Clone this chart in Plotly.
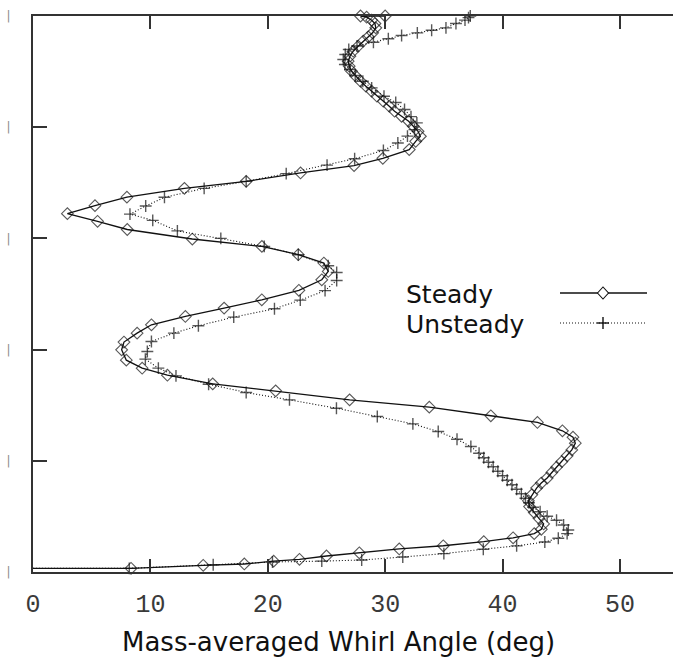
import plotly.graph_objects as go

# Spanwise position (0 = hub, 1 = tip) and mass-averaged whirl angle [deg]
steady_span = [
    0.0066, 0.0066, 0.0120, 0.0144, 0.0195, 0.0228, 0.0288, 0.0345, 0.0415, 0.0472,
    0.0546, 0.0615, 0.0690, 0.0768, 0.0864, 0.0966, 0.1070, 0.1176, 0.1280, 0.1390,
    0.1510, 0.1600, 0.1690, 0.1790, 0.1885, 0.1986, 0.2090, 0.2196, 0.2317, 0.2425,
    0.2540, 0.2690, 0.2810, 0.2965, 0.3096, 0.3258, 0.3384, 0.3540, 0.3666, 0.3810,
    0.3996, 0.4136, 0.4296, 0.4446, 0.4596, 0.4746, 0.4896, 0.5066, 0.5256, 0.5406,
    0.5557, 0.5707, 0.5856, 0.5989, 0.6160, 0.6307, 0.6445, 0.6589, 0.6742, 0.6900,
    0.7026, 0.7177, 0.7310, 0.7440, 0.7597, 0.7746, 0.7837, 0.7927, 0.8017, 0.8107,
    0.8197, 0.8287, 0.8377, 0.8467, 0.8557, 0.8647, 0.8737, 0.8827, 0.8917, 0.9007,
    0.9097, 0.9187, 0.9277, 0.9367, 0.9457, 0.9547, 0.9625, 0.9697, 0.9787, 0.9865,
    0.9925, 0.9979, 1.0000, 1.0000,
]
steady_angle = [
    0.0, 8.35, 14.5, 18.0, 20.5, 22.7, 25.0, 27.8, 31.2, 34.95,
    38.4, 40.9, 42.7, 43.3, 43.5, 43.1, 42.7, 42.3, 42.2, 42.5,
    42.9, 43.3, 43.8, 44.2, 44.6, 45.05, 45.5, 45.9, 46.2, 46.0,
    45.1, 42.97, 39.0, 33.76, 26.97, 20.67, 15.31, 11.45, 9.3, 7.95,
    7.55, 7.75, 8.87, 10.09, 12.98, 16.28, 19.49, 22.65, 24.6, 25.15,
    24.78, 22.6, 19.5, 13.57, 8.03, 5.5, 2.93, 5.28, 8.0, 12.9,
    18.16, 22.79, 27.35, 29.8, 32.05, 32.6, 33.0, 32.8, 32.4, 32.0,
    31.4, 30.8, 30.35, 29.84, 29.3, 28.85, 28.36, 27.9, 27.5, 27.14,
    26.94, 26.85, 27.0, 27.28, 27.7, 28.13, 28.56, 28.93, 29.2, 29.13,
    28.85, 28.42, 27.9, 30.0,
]

unsteady_span = [
    0.0066, 0.0066, 0.0130, 0.0180, 0.0195, 0.0216, 0.0270, 0.0330, 0.0410, 0.0470,
    0.0540, 0.0606, 0.0690, 0.0756, 0.0846, 0.0930, 0.1002, 0.1083, 0.1164, 0.1245,
    0.1326, 0.1407, 0.1488, 0.1569, 0.1650, 0.1731, 0.1812, 0.1893, 0.1974, 0.2055,
    0.2136, 0.2256, 0.2388, 0.2526, 0.2664, 0.2796, 0.2946, 0.3096, 0.3228, 0.3378,
    0.3528, 0.3666, 0.3828, 0.3966, 0.4146, 0.4296, 0.4428, 0.4584, 0.4734, 0.4890,
    0.5060, 0.5244, 0.5388, 0.5508, 0.5707, 0.5856, 0.6000, 0.6135, 0.6325, 0.6436,
    0.6583, 0.6739, 0.6900, 0.7026, 0.7165, 0.7317, 0.7433, 0.7582, 0.7717, 0.7840,
    0.7957, 0.8077, 0.8190, 0.8317, 0.8443, 0.8557, 0.8707, 0.8827, 0.8930, 0.9037,
    0.9127, 0.9217, 0.9307, 0.9397, 0.9460, 0.9529, 0.9590, 0.9649, 0.9697, 0.9745,
    0.9787, 0.9865, 0.9925, 0.9970, 1.0000,
]
unsteady_angle = [
    0.0, 8.2, 15.35, 20.4, 24.6, 28.0, 31.5, 35.0, 38.36, 41.2,
    43.6, 44.75, 45.5, 45.6, 45.2, 44.6, 43.8, 43.2, 42.6, 42.25,
    41.95, 41.6, 41.2, 40.8, 40.4, 40.0, 39.6, 39.2, 38.8, 38.4,
    38.0, 37.3, 36.12, 34.52, 32.36, 29.33, 25.85, 21.85, 18.16, 14.96,
    12.18, 10.68, 9.57, 9.74, 10.09, 12.0, 14.09, 17.1, 20.57, 22.77,
    24.88, 25.87, 25.87, 25.15, 22.6, 19.7, 16.0, 12.3, 10.2, 8.26,
    9.6, 11.2, 14.58, 18.16, 21.57, 25.05, 27.4, 29.85, 31.08, 31.9,
    32.5, 32.7, 32.2, 31.65, 30.9, 29.9, 28.85, 28.1, 27.45, 27.0,
    26.57, 26.43, 26.6, 26.9, 27.6, 29.0, 30.27, 31.4, 32.74, 33.96,
    35.18, 36.03, 36.8, 37.1, 37.25,
]

x_ticks = [0, 10, 20, 30, 40, 50]
span_ticks = [0.0, 0.2, 0.4, 0.6, 0.8, 1.0]
series_names = ["Steady", "Unsteady"]
x_title = "Mass-averaged Whirl Angle (deg)"

W, H = 673, 662
L, R, T, B = 33, 0, 16, 90
PW, PH = W - L - R, H - T - B

INK = "#111111"
AXIS = "#333333"


def px(xp):
    return (xp - L) / PW


def py(yp):
    return (H - B - yp) / PH


fig = go.Figure()

# the hub point of each profile carries no symbol
steady_sizes = [0] + [9] * (len(steady_angle) - 1)
unsteady_sizes = [0] + [8.5] * (len(unsteady_angle) - 1)

fig.add_trace(go.Scatter(
    x=steady_angle, y=steady_span, mode="lines+markers", name=series_names[0],
    line=dict(color=INK, width=1.3),
    marker=dict(symbol="diamond-open", size=steady_sizes, color=INK,
                line=dict(width=1.1, color=INK)),
    cliponaxis=False,
))
fig.add_trace(go.Scatter(
    x=unsteady_angle, y=unsteady_span, mode="lines+markers", name=series_names[1],
    line=dict(color=INK, width=1.1, dash="1px,2px"),
    marker=dict(symbol="cross-thin-open", size=unsteady_sizes, color=INK,
                line=dict(width=1.4, color=INK)),
    cliponaxis=False,
))

fig.update_xaxes(
    range=[0, 54.52], tickvals=x_ticks, ticktext=[str(t) for t in x_ticks],
    ticks="inside", ticklen=13, tickwidth=1.5, tickcolor=AXIS,
    showline=True, linewidth=2, linecolor=AXIS, mirror="ticks",
    showgrid=False, zeroline=False,
    tickfont=dict(family="Liberation Mono", size=25, color="#3a3a3a"),
    ticklabelstandoff=8,
)
fig.update_yaxes(
    range=[0, 1], tickvals=span_ticks, ticktext=["|"] * len(span_ticks),
    ticks="inside", ticklen=14, tickwidth=1.5, tickcolor=AXIS,
    showline=True, linewidth=2, linecolor=AXIS, mirror=False,
    showgrid=False, zeroline=False,
    tickfont=dict(family="DejaVu Sans", size=12, color="#8a8a8a"),
    ticklabelstandoff=18,
)

annotations = [
    dict(text=x_title, xref="paper", yref="paper", x=px(338.5), y=py(642),
         xanchor="center", yanchor="middle", showarrow=False,
         font=dict(family="DejaVu Sans", size=26, color=INK)),
]

# legend: label on the left, line sample with symbol on the right
shapes = []
for name, yl in zip(series_names, (293, 323)):
    annotations.append(dict(
        text=name, xref="paper", yref="paper", x=px(404), y=py(yl + 1),
        xanchor="left", yanchor="middle", showarrow=False,
        font=dict(family="DejaVu Sans", size=25, color=INK)))

shapes.append(dict(type="line", xref="paper", yref="paper",
                   x0=px(560), x1=px(647), y0=py(293), y1=py(293),
                   line=dict(color=INK, width=1.3)))
shapes.append(dict(type="line", xref="paper", yref="paper",
                   x0=px(560), x1=px(647), y0=py(323), y1=py(323),
                   line=dict(color=INK, width=1.1, dash="1px,2px")))
cx, cy = 603, 293
shapes.append(dict(
    type="path", xref="paper", yref="paper",
    path=(f"M {px(cx - 5.5)} {py(cy)} L {px(cx)} {py(cy - 6)} "
          f"L {px(cx + 5.5)} {py(cy)} L {px(cx)} {py(cy + 6)} Z"),
    fillcolor="white", line=dict(color=INK, width=1.1)))
cx, cy = 603, 323
shapes.append(dict(type="line", xref="paper", yref="paper",
                   x0=px(cx - 6), x1=px(cx + 6), y0=py(cy), y1=py(cy),
                   line=dict(color=INK, width=1.4)))
shapes.append(dict(type="line", xref="paper", yref="paper",
                   x0=px(cx), x1=px(cx), y0=py(cy - 6), y1=py(cy + 6),
                   line=dict(color=INK, width=1.4)))

fig.update_layout(
    width=W, height=H, margin=dict(l=L, r=R, t=T, b=B),
    paper_bgcolor="white", plot_bgcolor="white", showlegend=False,
    annotations=annotations, shapes=shapes,
)

fig.write_html("out.html")
